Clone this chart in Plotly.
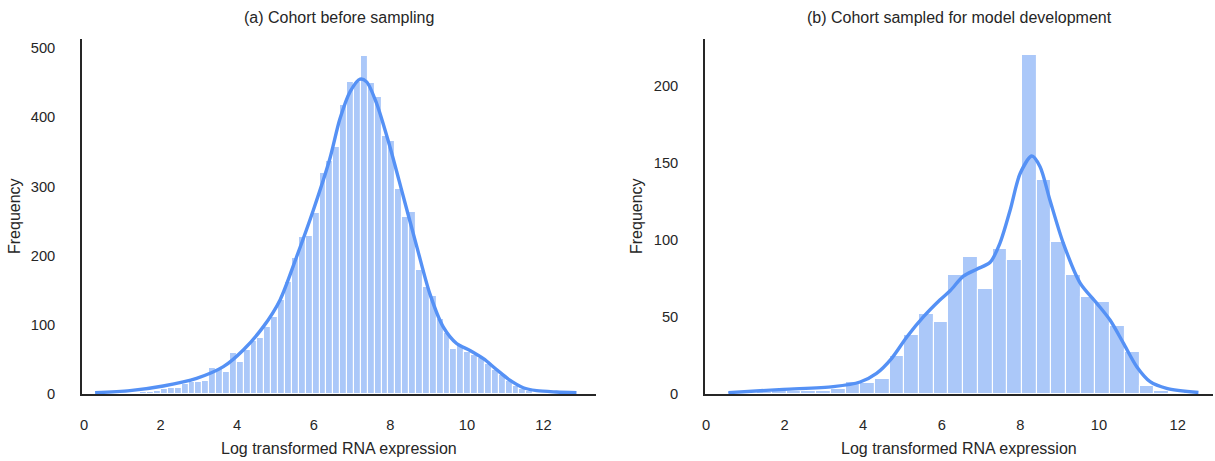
import numpy as np
import plotly.graph_objects as go

W, H = 1215, 461

# ---------------- Panel (a): cohort before sampling ----------------
a_title = "(a) Cohort before sampling"
a_bin_start = 0.21
a_bin_width = 0.18
a_counts = [1, 0, 1, 1, 1, 2, 2, 3, 3, 4,
            7, 9, 8, 15, 18, 18, 19, 37, 36, 32,
            59, 46, 64, 77, 81, 97, 112, 136, 162, 196,
            227, 228, 262, 319, 336, 357, 418, 451, 451, 488,
            450, 429, 373, 366, 296, 256, 263, 179, 154, 141,
            109, 88, 65, 69, 61, 57, 52, 44, 35, 27,
            19, 12, 7, 4, 2, 1, 1, 0, 0, 1]
a_kde_x = [0.29, 1.20, 2.07, 2.94, 3.64, 4.16, 4.68, 5.12, 5.55, 5.99,
           6.42, 6.68, 6.95, 7.21, 7.38, 7.64, 7.99, 8.34, 8.69, 9.03,
           9.38, 9.73, 10.08, 10.43, 10.78, 11.12, 11.47, 11.82, 12.34, 12.86]
a_kde_y = [1.9, 4.8, 11.6, 22.6, 39.5, 63.6, 97, 136, 198, 266,
           340, 397, 437, 455, 451, 420, 357, 285, 213, 145,
           97, 73, 63, 51, 35, 20, 9, 4.8, 2.9, 1.9]

# ---------------- Panel (b): cohort sampled for model development ----------------
b_title = "(b) Cohort sampled for model development"
b_bin_start = 0.56
b_bin_width = 0.374
b_counts = [1, 0, 1, 3, 2, 2, 2, 3, 8, 7,
            10, 25, 38, 52, 47, 77, 89, 68, 94, 87,
            220, 139, 99, 77, 63, 60, 44, 27, 5, 2,
            0, 1]
b_kde_x = [0.57, 1.97, 3.24, 3.92, 4.34, 4.72, 5.11, 5.53, 5.95, 6.21,
           6.55, 6.89, 7.23, 7.48, 7.74, 7.99, 8.29, 8.50, 8.75, 9.09,
           9.52, 9.94, 10.28, 10.62, 10.96, 11.30, 11.72, 12.53]
b_kde_y = [0.9, 3, 4.8, 7.8, 13.4, 23, 37, 50, 61, 67,
           76.5, 81, 85.5, 98, 119.5, 143, 154.5, 147.6, 126, 98,
           72, 59, 48, 33, 17.7, 8, 3.7, 1]

x_label = "Log transformed RNA expression"
y_label = "Frequency"
x_ticks = [0, 2, 4, 6, 8, 10, 12]
a_y_ticks = [0, 100, 200, 300, 400, 500]
b_y_ticks = [0, 50, 100, 150, 200]

BAR_COLOR = "#abc8f9"
LINE_COLOR = "#5591f5"
TEXT = "#262626"
FONT = "Liberation Sans, Arial, Helvetica, sans-serif"


def centers(start, width, n):
    return [start + width * (k + 0.5) for k in range(n)]


fig = go.Figure()

fig.add_trace(go.Bar(x=centers(a_bin_start, a_bin_width, len(a_counts)), y=a_counts,
                     width=a_bin_width, marker=dict(color=BAR_COLOR, line=dict(color="white", width=1.1)),
                     xaxis="x", yaxis="y", showlegend=False, hoverinfo="x+y"))
fig.add_trace(go.Scatter(x=a_kde_x, y=a_kde_y, mode="lines",
                         line=dict(color=LINE_COLOR, width=3.4, shape="spline", smoothing=0.8),
                         xaxis="x", yaxis="y", showlegend=False))
fig.add_trace(go.Bar(x=centers(b_bin_start, b_bin_width, len(b_counts)), y=b_counts,
                     width=b_bin_width, marker=dict(color=BAR_COLOR, line=dict(color="white", width=1.1)),
                     xaxis="x2", yaxis="y2", showlegend=False, hoverinfo="x+y"))
fig.add_trace(go.Scatter(x=b_kde_x, y=b_kde_y, mode="lines",
                         line=dict(color=LINE_COLOR, width=3.4, shape="spline", smoothing=0.8),
                         xaxis="x2", yaxis="y2", showlegend=False))

ax_common = dict(showline=True, linecolor=TEXT, linewidth=1.6, showgrid=False, zeroline=False,
                 ticks="outside", tickcolor="rgba(0,0,0,0)", automargin=False,
                 tickfont=dict(family=FONT, size=14.7, color=TEXT), fixedrange=True)

ybot = 1 - 394 / H
ytop = 1 - 39 / H

fig.update_layout(
    width=W, height=H, margin=dict(l=0, r=0, t=0, b=0),
    paper_bgcolor="white", plot_bgcolor="white",
    font=dict(family=FONT, color=TEXT),
    bargap=0,
    xaxis=dict(domain=[82 / W, 596 / W], range=[-0.052, 13.37], tickvals=x_ticks,
               ticklen=17, anchor="y", **ax_common),
    yaxis=dict(domain=[ybot, ytop], range=[0, 513], tickvals=a_y_ticks,
               ticklen=22, anchor="x", **ax_common),
    xaxis2=dict(domain=[705 / W, 1213 / W], range=[-0.025, 12.9], tickvals=x_ticks,
                ticklen=17, anchor="y2", **ax_common),
    yaxis2=dict(domain=[ybot, ytop], range=[0, 230.5], tickvals=b_y_ticks,
                ticklen=22, anchor="x2", **ax_common),
)

ann = []
def text(x, y, s, size, angle=0):
    ann.append(dict(x=x / W, y=1 - y / H, xref="paper", yref="paper", text=s, showarrow=False,
                    xanchor="center", yanchor="middle", textangle=angle,
                    font=dict(family=FONT, size=size, color=TEXT)))

text(339, 18, a_title, 16)
text(959, 18, b_title, 16)
text(339, 448, x_label, 16)
text(959, 448, x_label, 16)
text(14, 216, y_label, 16, -90)
text(636, 216, y_label, 16, -90)
fig.update_layout(annotations=ann)

fig.write_html("out.html")
